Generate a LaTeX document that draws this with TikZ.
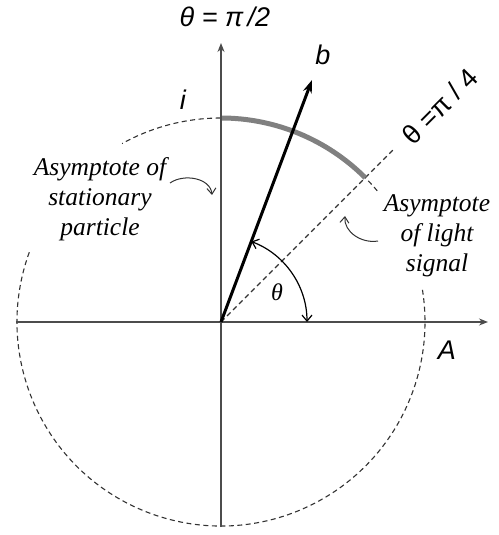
\documentclass[tikz,border=0pt]{standalone}
\usepackage{fontspec}
\setmainfont{Liberation Serif}
\newfontfamily\labelfont{Liberation Sans}
\usetikzlibrary{arrows.meta}

\tikzset{
  axis/.style={draw=black!70, line width=1.4pt, -{Stealth[length=9pt,width=7pt]}},
  dashline/.style={draw=black!80, line width=1.1pt, dash pattern=on 5pt off 3.5pt},
  note/.style={font=\fontsize{25.5}{30}\selectfont\itshape, align=center},
  sanslabel/.style={font=\labelfont\fontsize{27}{30}\selectfont\itshape},
  curvearrow/.style={draw=black!80, line width=1pt, -{Straight Barb[length=6pt,width=9pt]}},
}

\begin{document}
\begin{tikzpicture}[x=1pt, y=1pt]
\useasboundingbox (-221,-213) rectangle (277,322);

\coordinate (O) at (0,0);
\coordinate (xl) at (-205,0);
\coordinate (xr) at (267,0);
\coordinate (yb) at (0,-205);
\coordinate (yt) at (0,279);
\coordinate (bt) at (91,242);
\coordinate (d45) at (45:243);

% Circle
\draw[dashline] (40:204) arc[start angle=40, end angle=119, radius=204];
\draw[dashline] (160:204) arc[start angle=160, end angle=370, radius=204];
\draw[dashline] (O) -- (d45);
% Thick arc
\draw[gray, line width=5pt] (45:204) arc[start angle=45, end angle=90, radius=204];

\draw[axis] (xl) -- (xr);
\draw[axis] (yb) -- (yt);
\draw[line width=3pt, -{Stealth[length=13pt,width=9pt]}] (O) -- (bt);

% Angle
\draw[line width=1.2pt, {Straight Barb[length=6pt,width=10pt]}-{Straight Barb[length=6pt,width=10pt]}]
  (0:86) arc[start angle=0, end angle=69.4, radius=86];

\node[sanslabel] (toplab) at (4,305) {θ = π\,/2};
\node[sanslabel] (ilab) at (-38,222) {i};
\node[sanslabel] (blab) at (102,267) {b};
\node[sanslabel] (alab) at (226,-28) {A};
\node[
    font=\labelfont\fontsize{27}{30}\selectfont,
    rotate=45
] (qlab) at (219,216) {θ\;=π\;/\;4};
\node[font=\fontsize{24}{24}\selectfont\itshape] (thlab) at (56,30) {θ};

% Notes
\node[note] (stat) at (-121,123) {Asymptote of\\stationary\\particle};
\node[note] (light) at (216,86) {Asymptote\\of light\\signal};

\coordinate (statA) at (-51,139);
\coordinate (statB) at (-9,127);
\coordinate (lightA) at (157,81);
\coordinate (lightB) at (124,106);
\draw[curvearrow] (statA) to[out=35, in=95] (statB);
\draw[curvearrow] (lightA) to[out=190, in=-95] (lightB);
\end{tikzpicture}
\end{document}
